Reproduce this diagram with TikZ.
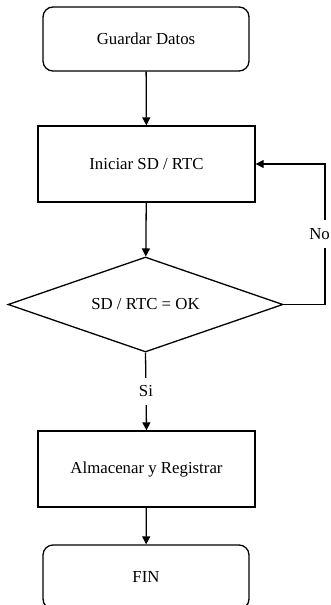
\documentclass[tikz,border=0pt]{standalone}
\usepackage{fontspec}
\setmainfont{Liberation Serif}
\usetikzlibrary{shapes.geometric,arrows.meta}
\begin{document}
\begin{tikzpicture}[x=1pt,y=1pt,
  every node/.style={font=\fontsize{16.8}{20}\selectfont},
  terminal/.style={draw,line width=1.3pt,rounded corners=10pt,minimum width=206pt,minimum height=64pt,inner sep=0pt},
  process/.style={draw,line width=1.3pt,minimum width=217pt,minimum height=76pt,inner sep=0pt},
  decision/.style={draw,line width=1.3pt,diamond,shape aspect=2.9,minimum width=275pt,minimum height=95pt,inner sep=0pt},
  flow/.style={line width=1.3pt,-{Triangle[length=8pt,width=8pt]}},
  lbl/.style={fill=white,inner sep=8pt}]
\useasboundingbox (0,0) rectangle (331,-605);
\node[terminal] (guardar) at (146,-39) {Guardar Datos};
\node[process] (iniciar) at (146.5,-164) {Iniciar SD / RTC};
\node[decision] (dec) at (145.5,-304.5) {SD / RTC = OK};
\node[process] (alm) at (146.5,-469) {Almacenar y Registrar};
\node[terminal] (fin) at (146,-577) {FIN};
\coordinate (c1) at (325,-304.5);
\coordinate (c2) at (325,-164);
\draw[flow] (guardar) -- (iniciar);
\draw[flow] (iniciar) -- (dec);
\draw[flow] (dec.south) -- node[lbl] {Si} (alm.north);
\draw[flow] (alm) -- (fin);
\draw[flow] (dec.east) -- (c1) -- (c2) -- (iniciar.east);
\node[fill=white,inner xsep=1pt,inner ysep=8pt,anchor=east] (no) at (331,-234) {No};
\end{tikzpicture}
\end{document}
